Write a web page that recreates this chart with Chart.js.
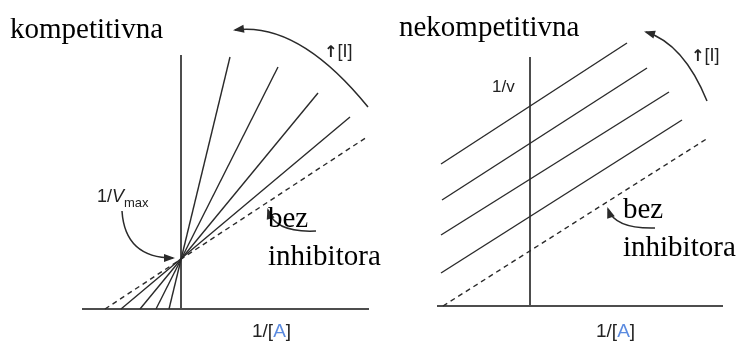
<!DOCTYPE html>
<html>
<head>
<meta charset="utf-8">
<script src="https://cdn.jsdelivr.net/npm/chart.js@4"></script>
<style>
  body { margin: 0; background: #fff; }
  #wrap { position: relative; width: 738px; height: 342px; overflow: hidden; }
  canvas { position: absolute; top: 0; }
  .t { position: absolute; white-space: nowrap; line-height: 1; color: #000; }
  .serif { font-family: "Liberation Serif", "Times New Roman", serif; font-size: 29px; }
  .sans { font-family: "Liberation Sans", Arial, sans-serif; color: #222; }
  .up { font-family: "DejaVu Sans", sans-serif; font-weight: bold; font-size: 16px; }
  .blue { color: #5b8be0; }
</style>
</head>
<body>
<div id="wrap">
  <canvas id="komp" width="369" height="342" style="left:0"></canvas>
  <canvas id="nek" width="369" height="342" style="left:369px"></canvas>

  <div class="t serif" style="left:10px; top:14px">kompetitivna</div>
  <div class="t serif" style="left:399px; top:12px">nekompetitivna</div>

  <div class="t sans" style="left:324px; top:42px; font-size:18px"><span class="up">↑</span>[I]</div>
  <div class="t sans" style="left:691px; top:46px; font-size:18px"><span class="up">↑</span>[I]</div>

  <div class="t sans" style="left:97px; top:187px; font-size:18px">1/<i>V</i><span style="font-size:13px; position:relative; top:5px">max</span></div>
  <div class="t sans" style="left:492px; top:78px; font-size:17px">1/v</div>

  <div class="t serif" style="left:268px; top:203px">bez</div>
  <div class="t serif" style="left:268px; top:241px">inhibitora</div>
  <div class="t serif" style="left:623px; top:194px">bez</div>
  <div class="t serif" style="left:623px; top:232px">inhibitora</div>

  <div class="t sans" style="left:252px; top:321px; font-size:19px">1/[<span class="blue">A</span>]</div>
  <div class="t sans" style="left:596px; top:321px; font-size:19px">1/[<span class="blue">A</span>]</div>
</div>

<script>
// kompetitivna: all lines meet at 1/Vmax on the y axis
const kompStartX = [-0.12, -0.25, -0.41, -0.6];
const kompEndX = [0.49, 0.97, 1.37, 1.69];
const kompEndY = [2.52, 2.42, 2.16, 1.92];
const kompBase = [[-0.76, 0], [1.86, 1.72]];

// nekompetitivna: parallel lines
const nekStartX = [-0.89, -0.88, -0.89, -0.89];
const nekStartY = [1.42, 1.06, 0.71, 0.33];
const nekEndX = [0.97, 1.17, 1.39, 1.52];
const nekEndY = [2.63, 2.38, 2.14, 1.86];
const nekBase = [[-0.87, 0], [1.78, 1.68]];

const lineColor = "#2a2a2a";
const axisColor = "#4d4d4d";

function lineSet(points, dashed) {
  return {
    data: points.map((p) => ({ x: p[0], y: p[1] })),
    showLine: true,
    borderColor: lineColor,
    borderWidth: 1.4,
    borderDash: dashed ? [5, 4] : [],
    pointRadius: 0,
    clip: false,
  };
}

// curved arrows, given in data units of each chart
const arrowPlugin = {
  id: "arrows",
  afterDatasetsDraw(chart, args, opts) {
    const ctx = chart.ctx;
    const xs = chart.scales.x, ys = chart.scales.y;
    const px = (p) => [xs.getPixelForValue(p[0]), ys.getPixelForValue(p[1])];
    ctx.save();
    ctx.strokeStyle = lineColor;
    ctx.fillStyle = lineColor;
    ctx.lineWidth = 1.5;
    (opts.items || []).forEach((a) => {
      const [x0, y0] = px(a[0]), [cx, cy] = px(a[1]), [x1, y1] = px(a[2]);
      ctx.beginPath();
      ctx.moveTo(x0, y0);
      ctx.quadraticCurveTo(cx, cy, x1, y1);
      ctx.stroke();
      const ang = Math.atan2(y1 - cy, x1 - cx);
      const len = 9, w = 4;
      ctx.beginPath();
      ctx.moveTo(x1 + Math.cos(ang) * 2, y1 + Math.sin(ang) * 2);
      ctx.lineTo(x1 - Math.cos(ang) * len - Math.sin(ang) * w, y1 - Math.sin(ang) * len + Math.cos(ang) * w);
      ctx.lineTo(x1 - Math.cos(ang) * len + Math.sin(ang) * w, y1 - Math.sin(ang) * len - Math.cos(ang) * w);
      ctx.closePath();
      ctx.fill();
    });
    ctx.restore();
  },
};

function axisScale(min, max) {
  return {
    type: "linear",
    min: min,
    max: max,
    afterBuildTicks: (axis) => {
      axis.ticks = [{ value: 0 }];
    },
    ticks: { display: false },
    grid: { color: axisColor, lineWidth: 2, drawTicks: false },
    border: { display: false },
  };
}

function makeChart(id, datasets, xr, yr, padding, arrows) {
  return new Chart(document.getElementById(id), {
    type: "scatter",
    data: { datasets: datasets },
    options: {
      responsive: false,
      animation: false,
      layout: { padding: padding },
      scales: { x: axisScale(xr[0], xr[1]), y: axisScale(yr[0], yr[1]) },
      plugins: {
        legend: { display: false },
        tooltip: { enabled: false },
        arrows: { items: arrows },
      },
    },
    plugins: [arrowPlugin],
  });
}

const kompSets = kompStartX.map((s, i) => lineSet([[s, 0], [kompEndX[i], kompEndY[i]]], false));
kompSets.push(lineSet(kompBase, true));

const nekSets = nekStartX.map((s, i) => lineSet([[s, nekStartY[i]], [nekEndX[i], nekEndY[i]]], false));
nekSets.push(lineSet(nekBase, true));

makeChart("komp", kompSets, [-0.99, 1.88], [0, 2.54],
  { left: 82, right: 0, top: 55, bottom: 33 },
  [
    [[1.87, 2.02], [1.175, 2.875], [0.54, 2.79]],
    [[-0.59, 0.98], [-0.56, 0.51], [-0.08, 0.51]],
    [[1.35, 0.78], [0.94, 0.76], [0.87, 0.99]],
  ]);

makeChart("nek", nekSets, [-0.93, 1.93], [0, 2.49],
  { left: 68, right: 15, top: 57, bottom: 36 },
  [
    [[1.77, 2.05], [1.535, 2.625], [1.16, 2.74]],
    [[1.25, 0.78], [0.85, 0.77], [0.78, 0.97]],
  ]);
</script>
</body>
</html>
